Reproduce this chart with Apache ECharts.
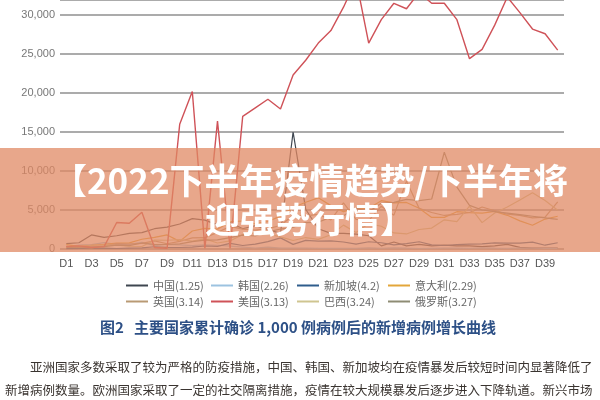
<!DOCTYPE html>
<html><head><meta charset="utf-8">
<script src="https://cdn.jsdelivr.net/npm/echarts@6/dist/echarts.min.js"></script>
<style>html,body{margin:0;padding:0;background:#fff}#c{width:600px;height:400px}</style>
</head><body><div id="c"></div>
<script>
const days = Array.from({length:40},(_,i)=>'D'+(i+1));
const names = ['中国(1.25)','韩国(2.26)','新加坡(4.2)','意大利(2.29)','英国(3.14)','美国(3.13)','巴西(3.24)','俄罗斯(3.27)'];
const colors = ['#3e4650','#9cc3e0','#2f5d8c','#e3a63a','#b99a74','#cf5258','#cfc590','#8e8c74'];
const china = [700,800,1800,1500,1700,2000,2100,2600,2800,3200,3900,3700,3100,3400,2600,3000,2500,2000,15000,5100,2600,2000,2000,1900,1700,400,900,400,600,400,500,400,400,300,400,600,200,100,100,100];
const korea = [280,510,570,810,590,600,850,440,600,520,440,520,480,370,250,130,240,110,110,110,80,70,80,90,150,90,150,100,60,80,100,100,90,150,110,80,130,100,90,90];
const singapore = [50,65,75,120,66,106,142,287,198,191,233,386,334,728,447,623,942,1426,596,1111,1016,1037,897,618,931,799,528,690,932,528,447,573,632,657,788,741,753,876,486,799];
const italy = [570,340,470,590,770,780,1250,1490,1800,980,2310,2650,2550,3500,3590,3230,3530,4210,5320,5990,6560,5560,4790,5250,5210,6200,5910,5970,5220,4050,4050,4780,4670,4590,4810,4320,3600,3040,3840,4200];
const uk = [340,250,150,410,680,640,710,1040,670,970,1430,1450,2130,2890,2550,2430,2620,3010,4320,4240,4450,3740,5900,3800,3630,5490,4340,8680,5230,4680,4300,4450,4680,5390,4910,4460,4310,4000,4080,6030];
const usa = [300,400,200,300,3400,3300,4700,200,100,16000,20200,100,16400,100,17000,18100,19200,17950,22300,24200,26400,28000,31000,34500,26400,29400,31500,30800,32900,31500,31500,29400,24400,25600,28700,32300,30300,28200,27600,25500];
const brazil = [350,230,480,500,490,350,320,1140,1120,1210,1010,1300,770,1030,1870,2140,1920,1550,1090,1470,1240,1830,3060,2110,3260,2920,2060,1930,2500,2680,3740,3500,5510,3380,4610,5390,6280,7220,6210,4970];
const russia = [200,230,270,300,500,440,770,600,580,660,950,1150,1180,1460,1790,1670,2190,2560,2770,3390,3450,4070,4270,5240,4770,5850,5970,6360,6200,6410,12400,7930,5600,5000,4800,4600,4400,4200,4000,3800];
const yMax = 31923;
const yStep = 5000;
const seriesData = [china,korea,singapore,italy,uk,usa,brazil,russia];
const legendCols = [126, 211, 297, 388];

const chart = echarts.init(document.getElementById('c'));
chart.setOption({
  animation:false,
  color: colors,
  grid:{left:60, right:36, top:0, bottom:151},
  xAxis:{type:'category', data:days, boundaryGap:true,
    axisLine:{show:false}, axisTick:{show:false},
    axisLabel:{interval:1, color:'#555', fontSize:11, fontFamily:'Liberation Sans', margin:9}},
  yAxis:{type:'value', min:0, max:yMax, interval:yStep,
    axisLine:{show:false}, axisTick:{show:false},
    axisLabel:{color:'#777', fontSize:11, fontFamily:'Liberation Sans', margin:5, showMaxLabel:false,
      formatter:v=>(v % yStep === 0 ? v.toLocaleString('en-US') : '')},
    splitLine:{lineStyle:{color:'#8f8f8f', width:1.6}}},
  legend: legendCols.map((x,c)=>({data:[names[c], names[c+4]], left:x, top:280, orient:'vertical',
      itemWidth:22, itemHeight:2, icon:'rect', itemGap:5, padding:0,
      textStyle:{fontSize:11, color:'#666', fontFamily:'Noto Sans CJK SC'}})),
  series: seriesData.map((d,i)=>({name:names[i], type:'line', data:d, symbol:'none',
    lineStyle:{width:i===5?1.4:1.2, color:colors[i]}, z: i===5?3:2})),
  graphic:[
    {type:'rect', shape:{x:0,y:148,width:600,height:104}, style:{fill:'rgba(224,136,98,0.74)'}, z:100},
    {type:'text', x:310, y:181, z:101, style:{text:'【2022下半年疫情趋势/下半年将', fill:'#fff', font:'bold 35px "Noto Sans CJK SC"', align:'center', verticalAlign:'middle'}},
    {type:'text', x:310, y:220, z:101, style:{text:'迎强势行情】', fill:'#fff', font:'bold 35px "Noto Sans CJK SC"', align:'center', verticalAlign:'middle'}},
    {type:'text', x:298, y:327, z:101, style:{text:'图2   主要国家累计确诊 1,000 例病例后的新增病例增长曲线', fill:'#2d5086', font:'bold 15px "Noto Sans CJK SC"', align:'center', verticalAlign:'middle'}},
    {type:'text', x:30, y:367, z:101, style:{text:'亚洲国家多数采取了较为严格的防疫措施，中国、韩国、新加坡均在疫情暴发后较短时间内显著降低了', fill:'#3a3430', font:'12.5px "Noto Sans CJK SC"', align:'left', verticalAlign:'middle'}},
    {type:'text', x:5, y:390, z:101, style:{text:'新增病例数量。欧洲国家采取了一定的社交隔离措施，疫情在较大规模暴发后逐步进入下降轨道。新兴市场', fill:'#3a3430', font:'12.5px "Noto Sans CJK SC"', align:'left', verticalAlign:'middle'}}
  ]
});
</script></body></html>
